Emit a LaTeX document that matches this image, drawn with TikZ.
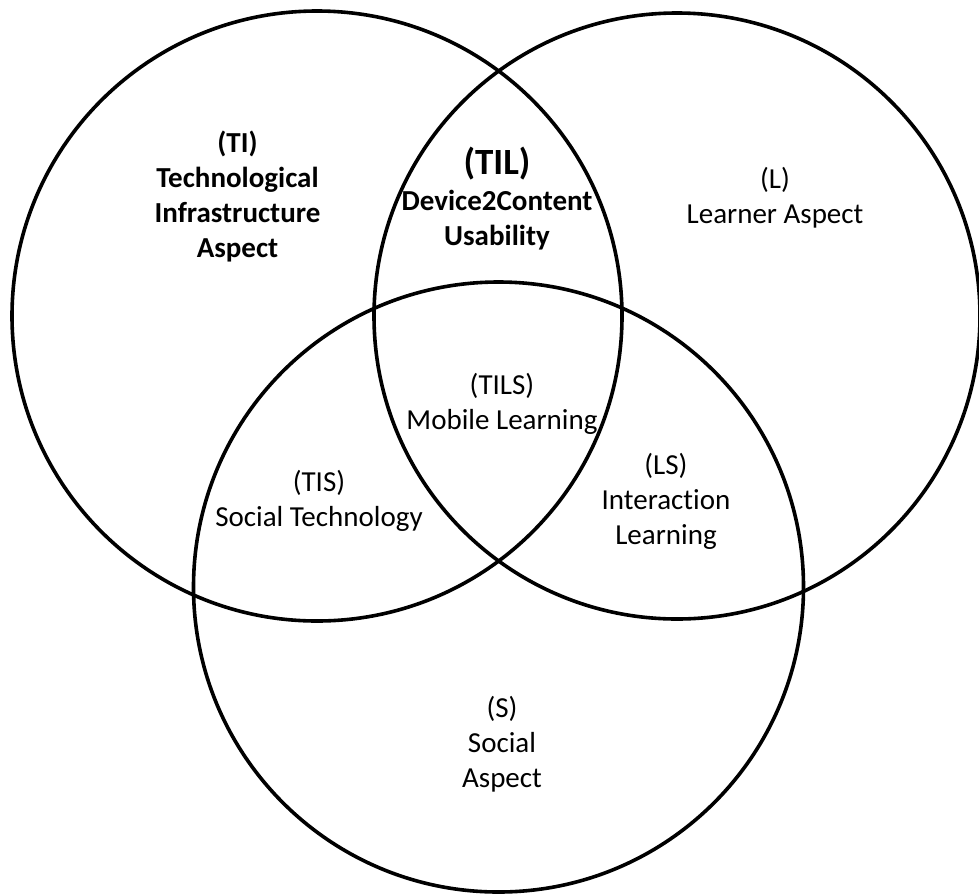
\documentclass[tikz,border=0pt]{standalone}
\usepackage{fontspec}
\setmainfont{Carlito}[Ligatures=NoCommon]
\begin{document}
\begin{tikzpicture}[x=1pt,y=-1pt,
  ring/.style={draw=black, line width=3.6pt},
  lbl/.style={align=center, font=\fontsize{29}{35}\selectfont, inner sep=0pt},
  blbl/.style={lbl, font=\fontsize{29}{35}\selectfont\bfseries}]
\useasboundingbox (0,0) rectangle (979,895);
\coordinate (cL) at (317,316);
\coordinate (cR) at (677,316);
\coordinate (cB) at (498.5,587);
\draw[ring] (cL) circle[radius=305pt];
\draw[ring] (cR) circle[radius=303pt];
\draw[ring] (cB) circle[radius=305pt];
\node[blbl] (ti) at (237.5,197) {(TI)\\Technological\\Infrastructure\\Aspect};
\node[blbl, font=\fontsize{37}{40}\selectfont\bfseries] (til) at (497,164) {(TIL)};
\node[blbl] (tilt) at (497,220.5) {Device2Content\\Usability};
\node[lbl] (l) at (775,198) {(L)\\Learner Aspect};
\node[lbl] (tils) at (502,403.5) {(TILS)\\Mobile Learning};
\node[lbl] (tis) at (319,501) {(TIS)\\Social Technology};
\node[lbl] (ls) at (666,501) {(LS)\\Interaction\\Learning};
\node[lbl] (s) at (502,744) {(S)\\Social\\Aspect};
\end{tikzpicture}
\end{document}
